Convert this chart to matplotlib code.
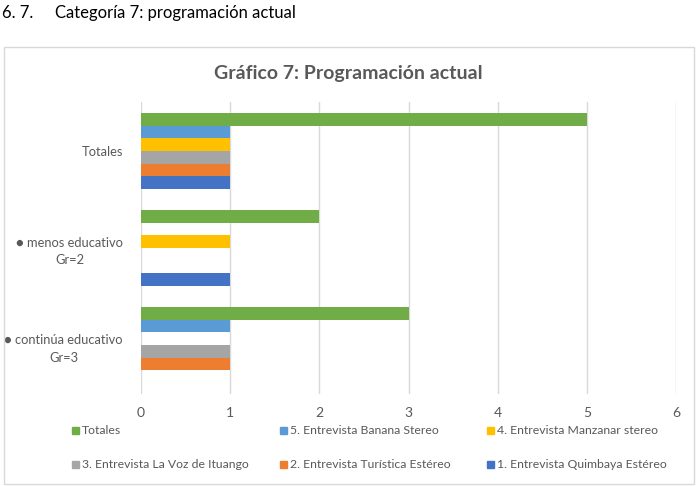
import numpy as np
import matplotlib
matplotlib.use("Agg")
from matplotlib import pyplot as plt
from matplotlib.patches import Rectangle

plt.rcParams['font.family'] = ['Lato', 'DejaVu Sans']

# data
categories = ["\u25cf continúa educativo\nGr=3", "\u25cf menos educativo\nGr=2", "Totales"]
series_names = ["1. Entrevista Quimbaya Estéreo", "2. Entrevista Turística Estéreo",
                "3. Entrevista La Voz de Ituango", "4. Entrevista Manzanar stereo",
                "5. Entrevista Banana Stereo", "Totales"]
quimbaya = [0, 1, 1]
turistica = [1, 0, 1]
la_voz = [1, 0, 1]
manzanar = [0, 1, 1]
banana = [1, 0, 1]
totales = [3, 2, 5]
values = [quimbaya, turistica, la_voz, manzanar, banana, totales]
colors = ["#4472C4", "#ED7D31", "#A5A5A5", "#FFC000", "#5B9BD5", "#70AD47"]
x_ticks = [0, 1, 2, 3, 4, 5, 6]

fig = plt.figure(figsize=(6.98, 4.86), dpi=100)
W, H = 698, 486

# heading of the document
fig.text(2 / W, 1 - 13 / H, "6. 7.", fontsize=12, color="#000000", va="center")
fig.text(55 / W, 1 - 13 / H, "Categoría 7: programación actual", fontsize=12,
         color="#000000", va="center")

# chart border
fig.patches.append(Rectangle((4 / W, 1 - 484 / H), 690 / W, 437 / H, transform=fig.transFigure,
                             fill=False, edgecolor="#D9D9D9", linewidth=1))

fig.text(348 / W, 1 - 74 / H, "Gráfico 7: Programación actual", fontsize=14, fontweight="bold",
         color="#595959", ha="center", va="center")

ax = fig.add_axes([141 / W, 1 - 393.5 / H, 535 / W, 291 / H])
y = np.arange(len(categories))
h = 0.129
n = len(values)
for i, (vals, c) in enumerate(zip(values, colors)):
    offs = (i - (n - 1) / 2) * h
    ax.barh(y + offs, vals, height=h, color=c, label=series_names[i], zorder=3)

ax.set_xlim(0, 6)
ax.set_ylim(-0.5, 2.5)
ax.set_xticks(x_ticks)
ax.set_yticks(y)
ax.set_yticklabels(categories, ha="right", multialignment="center", linespacing=1.55)
ax.tick_params(axis="y", length=0, pad=13, labelsize=9.3, labelcolor="#595959")
ax.tick_params(axis="x", length=0, pad=10, labelsize=10, labelcolor="#595959")
ax.grid(axis="x", color="#D9D9D9", linewidth=1, zorder=0)
for s in ax.spines.values():
    s.set_visible(False)

# legend (Excel-style, fixed columns)
legend_order = [5, 4, 3, 2, 1, 0]
col_x = [72, 280, 487]
row_y = [430, 464]
for k, idx in enumerate(legend_order):
    cx = col_x[k % 3]
    cy = row_y[k // 3]
    fig.patches.append(Rectangle((cx / W, 1 - (cy + 3.5) / H), 7 / W, 7 / H,
                                 transform=fig.transFigure, color=colors[idx]))
    fig.text((cx + 10) / W, 1 - cy / H, series_names[idx], fontsize=8.8,
             color="#595959", va="center")

fig.savefig("out.png", dpi=100)
